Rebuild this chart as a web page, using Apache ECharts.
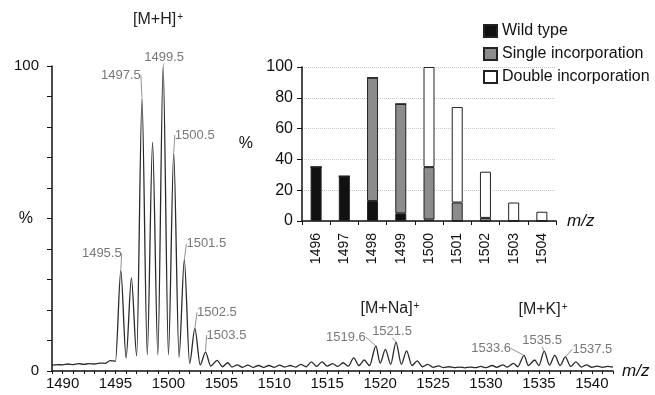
<!DOCTYPE html>
<html>
<head>
<meta charset="utf-8">
<script src="https://cdn.jsdelivr.net/npm/echarts@6/dist/echarts.min.js"></script>
<style>
html,body{margin:0;padding:0;background:#fff;}
#chart{width:655px;height:395px;}
</style>
</head>
<body>
<div id="chart"></div>
<script>
// ---- Mass spectrum (m/z vs relative intensity %) ----
const mz = [
  1489.0,1489.5,1490.0,1490.5,1491.0,1491.5,1492.0,1492.5,1493.0,1493.5,1494.0,1494.5,1495.0,
  1495.5,1496.0,1496.5,1497.0,1497.5,1498.0,1498.5,1499.0,1499.5,1500.0,1500.5,1501.0,1501.5,
  1502.0,1502.5,1503.0,1503.5,1504.0,1504.6,1505.1,1505.6,1506.0,1506.5,1507.0,1507.5,1508.0,
  1508.5,1509.0,1509.5,1510.0,1510.5,1511.0,1511.5,1512.0,1512.5,1513.0,1513.5,1514.0,1514.5,
  1515.0,1515.5,1516.0,1516.5,1517.0,1517.5,1518.0,1518.5,1519.0,1519.6,1520.0,1520.5,1521.0,
  1521.5,1522.0,1522.5,1523.0,1523.5,1524.0,1524.5,1525.0,1525.5,1526.0,1526.5,1527.0,1527.5,
  1528.0,1528.5,1529.0,1529.5,1530.0,1530.6,1531.0,1531.6,1532.0,1532.6,1533.0,1533.6,1534.0,
  1534.6,1535.0,1535.5,1536.0,1536.5,1537.0,1537.5,1538.0,1538.5,1539.0,1539.5,1540.0,1540.5,
  1541.0,1541.5,1542.0
];
const intensity = [
  1.9,2.1,2.0,2.3,2.1,2.4,2.2,2.4,2.3,2.6,2.5,3.4,3.2,
  33,4.3,30.5,5.0,89.5,5.3,75,5.3,100,5.3,71.5,4.5,36.5,
  2.5,14,2.0,6.2,1.6,3.5,1.4,2.7,1.3,2.0,1.2,1.9,1.2,
  1.8,1.2,1.8,1.2,1.9,1.3,1.8,1.3,2.2,1.4,3.0,1.5,3.0,
  1.6,2.4,1.5,2.7,1.6,4.3,1.8,3.6,1.8,8.2,2.6,7.1,2.2,
  9.5,2.2,6.6,1.8,3.3,1.4,2.2,1.2,1.7,1.1,1.4,1.1,1.3,
  1.0,1.3,1.1,1.5,1.1,1.8,1.2,2.0,1.3,2.5,1.4,5.1,1.8,
  3.6,1.8,6.5,1.9,5.1,1.8,4.6,1.5,3.0,1.3,2.0,1.2,1.6,
  1.2,1.5,1.3
];
const labeledPeaks = ['1495.5','1497.5','1499.5','1500.5','1501.5','1502.5','1503.5',
                      '1519.6','1521.5','1533.6','1535.5','1537.5'];

// ---- Inset: isotope composition ----
const barCategories = ['1496','1497','1498','1499','1500','1501','1502','1503','1504'];
const wildType   = [35, 29, 13, 5, 1, 0, 0, 0, 0];
const singleInc  = [0, 0, 80, 71, 34, 12, 2, 0, 0];
const doubleInc  = [0, 0, 0, 0, 65, 62, 30, 12, 6];
const seriesNames = ['Wild type', 'Single incorporation', 'Double incorporation'];

// label offsets (styling only) for the peak annotations
const labelOffsets = [[-19,-8],[-21,-14],[1,0],[21,-9],[22,-7],[22,-7],[21,-8],
                      [-30,0],[-4,-2],[-33,2],[-2,-2],[27,1]];

const FONT = '"Liberation Sans", Arial, Helvetica, sans-serif';
const chart = echarts.init(document.getElementById('chart'), null, {renderer:'canvas'});

const spectrum = mz.map((m,i)=>[m, intensity[i]]);
const peakPoints = labeledPeaks.map(s=>{
  const m = parseFloat(s);
  const i = mz.indexOf(m);
  return {name:s, value:[m, intensity[i]]};
});

const barStyle = (c)=>({color:c, borderColor:'#222', borderWidth:1});

chart.setOption({
  animation:false,
  backgroundColor:'#fff',
  textStyle:{fontFamily:FONT},
  grid:[
    {left:52, top:66, width:561, height:305, outerBoundsMode:'none', containLabel:false},
    {left:302, top:67, width:254, height:154, outerBoundsMode:'none', containLabel:false}
  ],
  legend:{
    data:seriesNames,
    orient:'vertical',
    left:483, top:22, padding:0,
    itemWidth:13, itemHeight:12, itemGap:5,
    icon:'rect',
    textStyle:{fontSize:16, color:'#111', fontFamily:FONT, lineHeight:18}
  },
  xAxis:[
    {type:'value', gridIndex:0, min:1489, max:1542, interval:1,
     name:'m/z', nameLocation:'end', nameGap:9, nameMoveOverlap:false,
     nameTextStyle:{fontStyle:'italic', fontSize:17, color:'#111', fontFamily:FONT},
     axisLine:{lineStyle:{color:'#111', width:1.5}},
     axisTick:{show:true, length:3, lineStyle:{color:'#111', width:1}},
     axisLabel:{color:'#111', fontSize:15, margin:5, fontFamily:FONT,
       formatter:(v)=> (Math.round(v)%5===0 ? String(Math.round(v)) : '')},
     splitLine:{show:false}},
    {type:'category', gridIndex:1, data:barCategories,
     name:'m/z', nameLocation:'end', nameGap:11, nameMoveOverlap:false,
     nameTextStyle:{fontStyle:'italic', fontSize:17, color:'#111', fontFamily:FONT},
     axisLine:{lineStyle:{color:'#111', width:1.5}},
     axisTick:{show:true, length:4, lineStyle:{color:'#111'}},
     axisLabel:{rotate:90, color:'#111', fontSize:14, margin:12, fontFamily:FONT},
     splitLine:{show:false}}
  ],
  yAxis:[
    {type:'value', gridIndex:0, min:0, max:100, interval:10,
     name:'%', nameLocation:'middle', nameRotate:0, nameGap:19, nameMoveOverlap:false,
     nameTextStyle:{fontSize:16, color:'#111', fontFamily:FONT},
     axisLine:{show:true, lineStyle:{color:'#111', width:1.5}},
     axisTick:{show:true, length:5, lineStyle:{color:'#111'}},
     axisLabel:{color:'#111', fontSize:15, margin:13, fontFamily:FONT,
       formatter:(v)=> (v===0||v===100 ? String(v) : '')},
     splitLine:{show:false}},
    {type:'value', gridIndex:1, min:0, max:100, interval:20,
     name:'%', nameLocation:'middle', nameRotate:0, nameGap:49, nameMoveOverlap:false,
     nameTextStyle:{fontSize:16, color:'#111', fontFamily:FONT},
     axisLine:{show:true, lineStyle:{color:'#111', width:1.5}},
     axisTick:{show:true, length:5, lineStyle:{color:'#111'}},
     axisLabel:{color:'#111', fontSize:16, margin:9, fontFamily:FONT},
     splitLine:{show:true, lineStyle:{color:'#c8c8c8', type:'dotted', width:1}}}
  ],
  graphic:[
    {type:'text', x:158, y:20, style:{text:'[M+H]{s|+}', textAlign:'center', textVerticalAlign:'middle',
      font:'16px '+FONT, fill:'#222', rich:{s:{fontSize:10, verticalAlign:'top', fill:'#222', padding:[0,0,0,1]}}}},
    {type:'text', x:390, y:309, style:{text:'[M+Na]{s|+}', textAlign:'center', textVerticalAlign:'middle',
      font:'16px '+FONT, fill:'#222', rich:{s:{fontSize:10, verticalAlign:'top', fill:'#222', padding:[0,0,0,1]}}}},
    {type:'text', x:543, y:310, style:{text:'[M+K]{s|+}', textAlign:'center', textVerticalAlign:'middle',
      font:'16px '+FONT, fill:'#222', rich:{s:{fontSize:10, verticalAlign:'top', fill:'#222', padding:[0,0,0,1]}}}}
  ],
  series:[
    {type:'line', name:'spectrum', xAxisIndex:0, yAxisIndex:0, data:spectrum,
     showSymbol:false, symbol:'none', smooth:0.3, smoothMonotone:'x',
     lineStyle:{color:'#2a2a2a', width:1.3}, silent:true, z:2},
    {type:'scatter', name:'peaks', xAxisIndex:0, yAxisIndex:0, data:peakPoints,
     symbolSize:1, itemStyle:{color:'rgba(0,0,0,0)'}, silent:true, z:3,
     label:{show:true, position:'top', distance:2, formatter:(p)=>p.name,
       fontSize:13, color:'#555', fontFamily:FONT},
     labelLine:{show:true, lineStyle:{color:'#777', width:0.8}},
     labelLayout:(params)=>{ const o = labelOffsets[params.dataIndex]; return {dx:o[0], dy:o[1]}; }},
    {type:'bar', name:seriesNames[0], xAxisIndex:1, yAxisIndex:1, stack:'iso', data:wildType,
     barWidth:11, itemStyle:barStyle('#111')},
    {type:'bar', name:seriesNames[1], xAxisIndex:1, yAxisIndex:1, stack:'iso', data:singleInc,
     barWidth:11, itemStyle:barStyle('#8c8c8c')},
    {type:'bar', name:seriesNames[2], xAxisIndex:1, yAxisIndex:1, stack:'iso', data:doubleInc,
     barWidth:11, itemStyle:barStyle('#ffffff')}
  ]
});
</script>
</body>
</html>
